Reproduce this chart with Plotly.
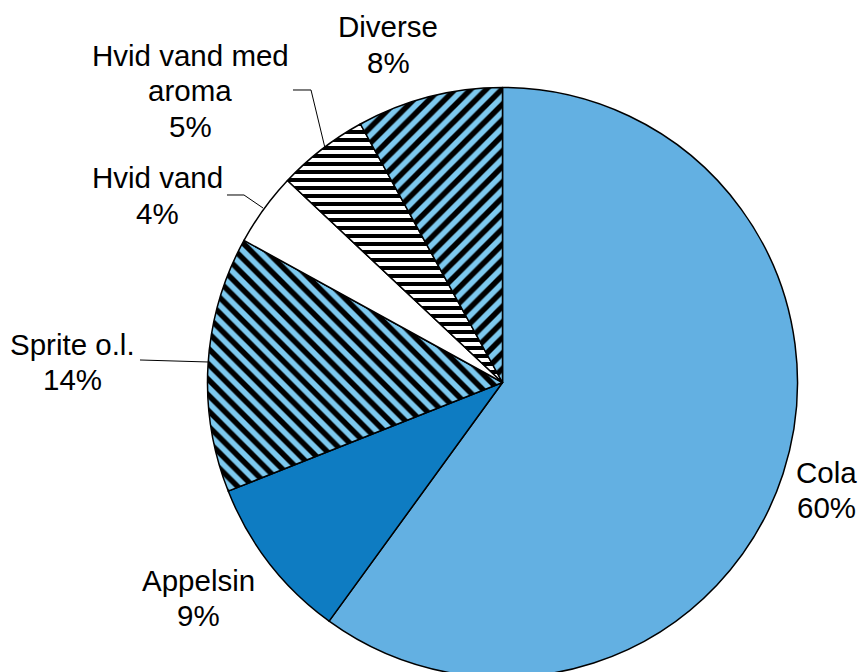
import plotly.graph_objects as go

# Soft drink sales split (share in %)
categories = ["Cola", "Appelsin", "Sprite o.l.", "Hvid vand", "Hvid vand med aroma", "Diverse"]
shares = [60, 9, 14, 4, 5, 8]
label_lines = [["Cola"], ["Appelsin"], ["Sprite o.l."], ["Hvid vand"],
               ["Hvid vand med", "aroma"], ["Diverse"]]

W, H = 859, 680

fill_colors = ["#63B0E2", "#0E7CC2", "#7DC9EF", "#FFFFFF", "#FFFFFF", "#7DC9EF"]
patterns = ["", "", "\\", "", "-", "/"]
pattern_sizes = [8, 8, 11, 8, 8, 11]

fig = go.Figure(go.Pie(
    labels=categories,
    values=shares,
    sort=False,
    direction="clockwise",
    rotation=0,
    textinfo="none",
    hoverinfo="label+percent",
    marker=dict(
        colors=fill_colors,
        line=dict(color="black", width=1.5),
        pattern=dict(
            shape=patterns,
            size=pattern_sizes,
            solidity=0.5,
            fgcolor="black",
            bgcolor=fill_colors,
            fillmode="replace",
        ),
    ),
    domain=dict(x=[(502.5 - 295) / W, (502.5 + 295) / W],
                y=[1 - 677.5 / H, 1 - 87.5 / H]),
    showlegend=False,
))

# first-line centre (pixels) of each slice label
label_px = {
    "Cola": (826, 472),
    "Appelsin": (198, 580),
    "Sprite o.l.": (72, 344),
    "Hvid vand": (157, 178),
    "Hvid vand med aroma": (190, 55),
    "Diverse": (388, 27),
}
LINE_STEP = 35.5
FONT = dict(family="Liberation Sans, Arial, sans-serif", size=29.5, color="black")

annotations = []
for cat, lines, val in zip(categories, label_lines, shares):
    px, py = label_px[cat]
    for i, txt in enumerate(lines + [f"{val}%"]):
        annotations.append(dict(
            x=px / W, y=1 - (py + i * LINE_STEP) / H, xref="paper", yref="paper",
            text=txt, showarrow=False,
            xanchor="center", yanchor="middle", align="center", font=FONT,
        ))

def pix_path(points):
    d = "M " + " L ".join(f"{x / W:.5f},{1 - y / H:.5f}" for x, y in points)
    return dict(type="path", path=d, xref="paper", yref="paper",
                line=dict(color="black", width=1))

leaders = [
    [(293, 90), (311, 90), (325, 148)],
    [(227, 195), (244, 195), (263, 208)],
    [(140, 360), (208, 362)],
]

fig.update_layout(
    width=W, height=H,
    margin=dict(l=0, r=0, t=0, b=0),
    paper_bgcolor="white",
    plot_bgcolor="white",
    annotations=annotations,
    shapes=[pix_path(p) for p in leaders],
)

fig.write_html("out.html",
               post_script="document.body.style.margin='0';document.body.style.overflow='hidden';")
